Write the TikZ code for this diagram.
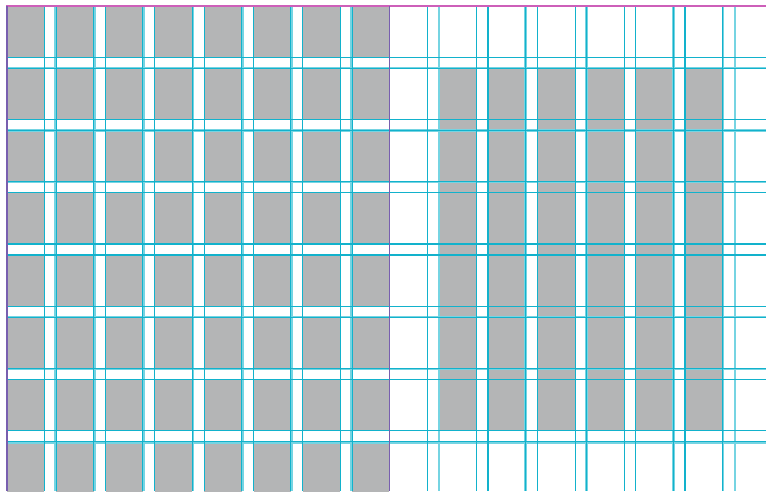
\documentclass[tikz,border=0pt]{standalone}
\definecolor{boxgrey}{RGB}{180,181,182}
\definecolor{darkcyan}{RGB}{18,178,204}
\definecolor{lightcyan}{RGB}{118,212,226}
\definecolor{topmag}{RGB}{205,95,185}
\definecolor{edgepurple}{RGB}{120,95,175}
\tikzset{
  greybox/.style={fill=boxgrey, draw=none},
  darkline/.style={draw=darkcyan, line width=1.1pt},
  lightline/.style={draw=lightcyan, line width=2.2pt},
  topline/.style={draw=topmag, line width=1.4pt},
  edgeline/.style={draw=edgepurple, line width=1.9pt}
}
\begin{document}
\begin{tikzpicture}[x=1pt,y=-1pt]
\useasboundingbox (0,0) rectangle (766,491);
\begin{scope}
\clip (0,0) rectangle (766,491);
% left page grey boxes
\foreach \i in {0,...,7}{
  \foreach \k in {0,...,7}{
    \fill[greybox] ({7+49.3*\k},{6+62.25*\i}) rectangle ({44.3+49.3*\k},{57.2+62.25*\i});
  }
}
% right page tall grey columns
\foreach \j in {0,...,5}{
  \fill[greybox] ({438.7+49.25*\j},68.25) rectangle ({476.5+49.25*\j},430.7);
}
% light guide lines
\foreach \y in {68.3,130.5,181.6,255,317.2,368.6,442.4}{
  \draw[lightline] (7,\y) -- (766,\y);
}
\foreach \x in {55,95,143.5,193,242.5,292,351.5,439,525.5,586.5,673.5,722.7,734.7}{
  \draw[lightline] (\x,6) -- (\x,491);
}
% dark guide lines
\foreach \i in {0,...,6}{
  \draw[darkline] (7,{57.2+62.25*\i}) -- (766,{57.2+62.25*\i});
  \draw[darkline] (7,{68.25+62.25*\i}) -- (766,{68.25+62.25*\i});
}
\foreach \k in {0,...,7}{
  \draw[darkline] ({44.3+49.3*\k},6) -- ({44.3+49.3*\k},491);
}
\foreach \k in {1,...,7}{
  \draw[darkline] ({7+49.3*\k},6) -- ({7+49.3*\k},491);
}
\foreach \j in {0,...,6}{
  \draw[darkline] ({427.3+49.25*\j},6) -- ({427.3+49.25*\j},491);
}
\foreach \j in {1,...,5}{
  \draw[darkline] ({438.7+49.25*\j},6) -- ({438.7+49.25*\j},491);
}
% page borders
\draw[topline] (6,6) -- (766,6);
\draw[edgeline] (7,6) -- (7,491);
\draw[edgeline] (389.5,6) -- (389.5,491);
\end{scope}
\end{tikzpicture}
\end{document}
